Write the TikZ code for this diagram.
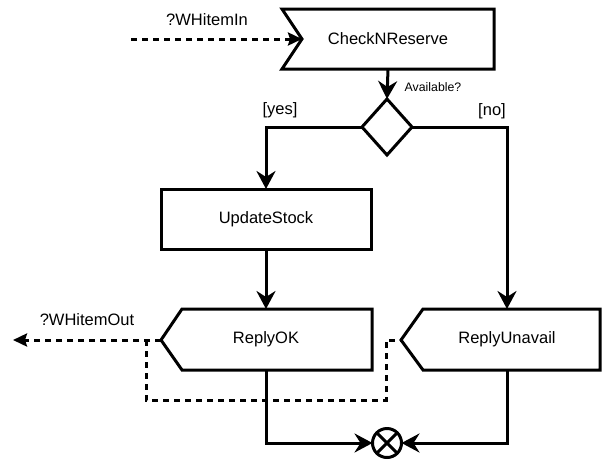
\documentclass[tikz,border=0pt]{standalone}
\usepackage{fontspec}
\setmainfont{Liberation Sans}
\usetikzlibrary{arrows.meta,shapes.geometric}
\begin{document}
\begin{tikzpicture}[x=1pt,y=-1pt,
  every node/.style={inner sep=0pt,outer sep=0pt},
  txt/.style={font=\fontsize{16.5}{18}\selectfont},
  small/.style={font=\fontsize{12.3}{14}\selectfont},
  shapeline/.style={line width=3pt,line join=miter},
  flow/.style={line width=3pt,-{Stealth[length=18pt,width=19pt,inset=6pt]}},
  msg/.style={line width=3pt,dash pattern=on 6pt off 5pt},
  msgarrow/.style={msg,-{Stealth[length=14pt,width=13pt,inset=2pt]}},
  box/.style={draw,line width=3pt,minimum width=210pt,minimum height=60pt,txt}
]
\useasboundingbox (0,0) rectangle (602,459);

% CheckNReserve (receive shape)
\node[txt] (chk) at (388,39) {CheckNReserve};
\coordinate (chkin) at (302,39);
\draw[shapeline] (282,9) -- (494,9) -- (494,69) -- (282,69) -- (chkin) -- cycle;
\coordinate (chkbot) at (388,69);

% decision
\node[draw,line width=3pt,diamond,minimum width=50pt,minimum height=56pt] (dec) at (387,127) {};

% UpdateStock
\node[box] (ups) at (266,219) {UpdateStock};

% ReplyOK (send shape)
\node[txt] (ok) at (266,339) {ReplyOK};
\coordinate (oktip) at (161,340);
\coordinate (oktop) at (266,309);
\coordinate (okbot) at (266,370);
\draw[shapeline] (oktip) -- (182,309) -- (372,309) -- (372,370) -- (182,370) -- cycle;

% ReplyUnavail (send shape)
\node[txt] (un) at (507,339) {ReplyUnavail};
\coordinate (untip) at (401,340);
\coordinate (untop) at (507,309);
\coordinate (unbot) at (507,370);
\draw[shapeline] (untip) -- (423,309) -- (600,309) -- (600,370) -- (423,370) -- cycle;

% merge
\node[draw,line width=3pt,circle,minimum size=29pt] (mrg) at (387,443) {};
\draw[line width=3pt] (mrg.north west) -- (mrg.south east) (mrg.north east) -- (mrg.south west);

% flows
\draw[flow] (chkbot) -- (dec.north);
\draw[flow] (dec.west) -| (ups.north);
\draw[flow] (dec.east) -| (untop);
\draw[flow] (ups.south) -- (oktop);
\draw[flow] (okbot) |- (mrg.west);
\draw[flow] (unbot) |- (mrg.east);

% messages
\coordinate (inStart) at (131,39);
\coordinate (outEnd) at (13,340);
\draw[msgarrow] (inStart) -- (chkin);
\draw[msgarrow] (oktip) -- (outEnd);
\coordinate (j1) at (146,340);
\coordinate (j2) at (386,340);
\draw[msg] (j1) -- (146,400) -- (386,400) -- (j2) -- (untip);

% labels
\node[txt] (lin) at (207,20) {?WHitemIn};
\node[small] (lav) at (433,87) {Available?};
\node[txt] (lyes) at (280,110) {[yes]};
\node[txt] (lno) at (492,111) {[no]};
\node[txt] (lout) at (87,320) {?WHitemOut};
\end{tikzpicture}
\end{document}
